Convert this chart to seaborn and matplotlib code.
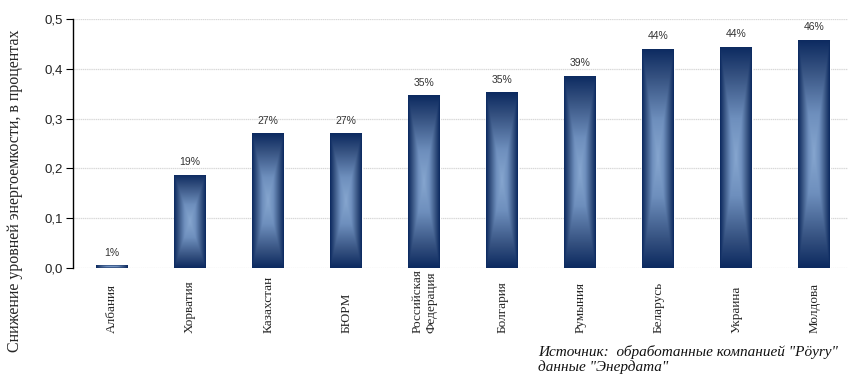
import numpy as np
import pandas as pd
import matplotlib
matplotlib.use("Agg")
import matplotlib.pyplot as plt
import seaborn as sns
from matplotlib.ticker import FuncFormatter, FixedLocator
from matplotlib.colors import LinearSegmentedColormap

countries = ["Албания", "Хорватия", "Казахстан", "БЮРМ", "Российская\nФедерация",
             "Болгария", "Румыния", "Беларусь", "Украина", "Молдова"]
values = [0.006, 0.187, 0.271, 0.271, 0.347, 0.353, 0.386, 0.440, 0.444, 0.458]
labels = ["1%", "19%", "27%", "27%", "35%", "35%", "39%", "44%", "44%", "46%"]
yticks = [0.0, 0.1, 0.2, 0.3, 0.4, 0.5]
ylabel = "Снижение уровней энергоемкости, в процентах"
source = "Источник:  обработанные компанией \"Pöyry\"\nданные \"Энердата\""

df = pd.DataFrame({"country": countries, "value": values})

sns.set_style("white")
plt.rcParams["font.family"] = ["Liberation Sans", "DejaVu Sans"]

fig = plt.figure(figsize=(8.48, 3.76), dpi=100)
ax = fig.add_axes([73/848, 1 - 268/376, (848 - 73)/848, (268 - 19)/376])

sns.barplot(data=df, x="country", y="value", color="#0c2a60", width=0.41,
            ax=ax, saturation=1, zorder=2)

cmap = LinearSegmentedColormap.from_list(
    "g", [(0.0, "#86a6cf"), (0.35, "#6e8fbd"), (0.75, "#34507f"), (1.0, "#0c2a60")])

ny, nx = 200, 60
for p in ax.patches:
    x0, y0 = p.get_x(), p.get_y()
    w, h = p.get_width(), p.get_height()
    if h <= 0:
        continue
    u = np.abs(np.linspace(-1, 1, nx))[None, :]
    v = np.abs(np.linspace(-1, 1, ny))[:, None]
    t = np.maximum(u, v)
    im = ax.imshow(t, cmap=cmap, vmin=0, vmax=1, aspect="auto",
                   extent=[x0, x0 + w, y0, y0 + h], origin="lower",
                   interpolation="bilinear", zorder=3)
    im.set_clip_path(p)

ax.set_xlim(-0.5, 9.43)
ax.set_ylim(0, 0.5)
ax.yaxis.set_major_locator(FixedLocator(yticks))
ax.yaxis.set_major_formatter(FuncFormatter(lambda v, _: f"{v:.1f}".replace(".", ",")))
ax.grid(axis="y", color="#d8d8d8", linewidth=0.9, linestyle=(0, (1, 0.5)), zorder=0)
ax.set_axisbelow(True)

for s in ["top", "right", "bottom"]:
    ax.spines[s].set_visible(False)
ax.spines["left"].set_color("black")
ax.spines["left"].set_linewidth(1.0)

ax.tick_params(axis="y", left=True, length=5, width=0.8, color="black",
               labelsize=9.5, labelcolor="#222222", pad=2)
ax.tick_params(axis="x", bottom=False, length=0, pad=65 * 72 / 100)

ax.set_xticks(range(len(countries)))
ax.set_xticklabels(countries, rotation=90, va="bottom", ha="center",
                   multialignment="left", family=["Liberation Serif", "DejaVu Serif"],
                   fontsize=9.5)
ax.set_xlabel("")
ax.set_ylabel(ylabel, family=["Liberation Serif", "DejaVu Serif"], fontsize=11.5)
ax.yaxis.set_label_coords(-50/775, 0.31)

for i, (v, lab) in enumerate(zip(values, labels)):
    ax.annotate(lab, (i, v), xytext=(0, 9), textcoords="offset points",
                ha="center", va="center", fontsize=7.5, color="#333333")

fig.text(538/848, 1 - 345/376, source, ha="left", va="top", fontsize=11,
         style="italic", family=["Liberation Serif", "DejaVu Serif"],
         linespacing=1.15, color="#111111")

fig.savefig("out.png", dpi=100)
